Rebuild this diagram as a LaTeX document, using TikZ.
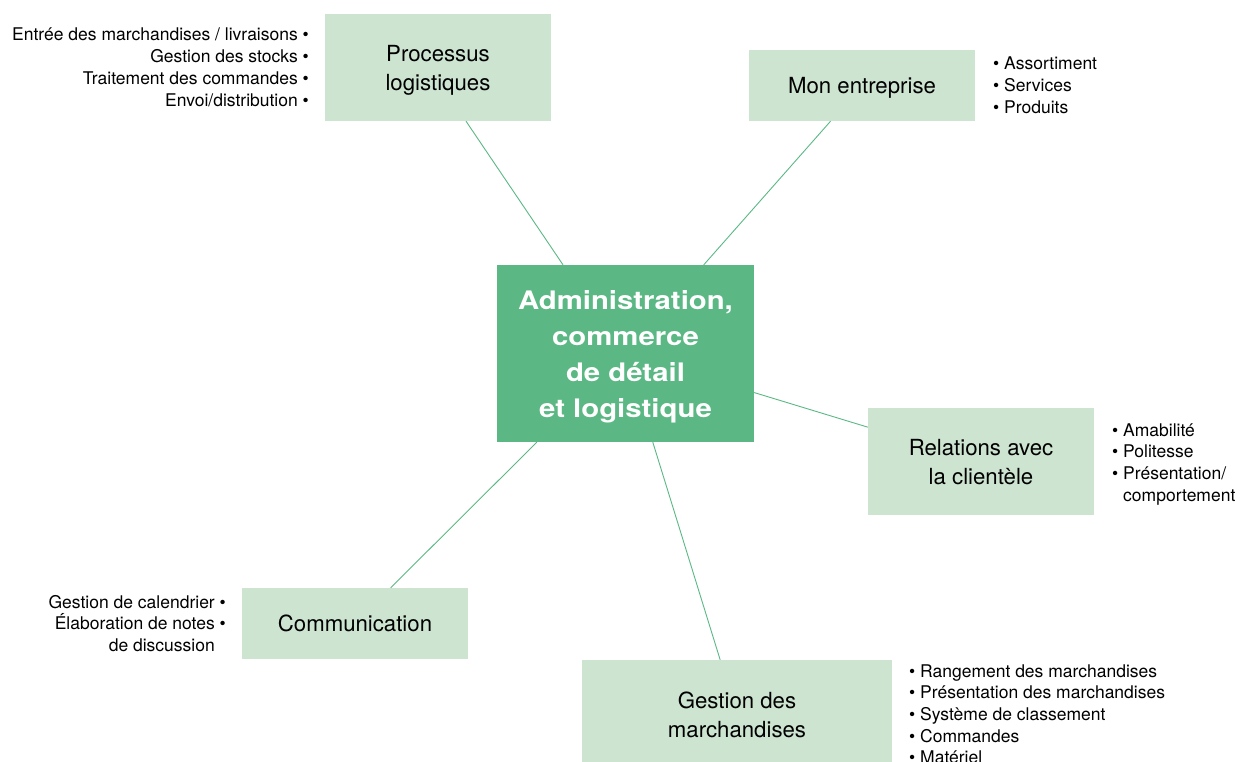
\documentclass[tikz,border=0pt]{standalone}
\usepackage{fontspec}
\setmainfont{TeX Gyre Heros}
\newfontfamily\corefont[FakeStretch=1.15]{TeX Gyre Heros}
\usepackage{xcolor}
\definecolor{mintlight}{HTML}{CCE4D0}
\definecolor{mintdark}{HTML}{5BB884}
\newcommand{\itembul}{\textbullet~}
\newcommand{\itemgap}{\phantom{\textbullet~}}

\tikzset{
  topic/.style={fill=mintlight, inner sep=0pt, minimum width=226pt, align=center, text depth=0pt, font=\fontsize{22.2}{29}\selectfont},
  core/.style={fill=mintdark, text=white, inner sep=0pt, minimum width=257pt, minimum height=177pt, align=center, text depth=0pt, font=\corefont\fontsize{25.5}{36}\selectfont\bfseries},
  item/.style={inner sep=0pt, font=\fontsize{17.5}{21.7}\selectfont},
  link/.style={mintdark, line width=0.9pt}
}

\begin{document}
\begin{tikzpicture}[x=1pt,y=-1pt]
\useasboundingbox (0,0) rectangle (1242,762);
% boxes
\node [core] (admin) at (625.5,353.5) {Administration,\\commerce\\de détail\\et logistique};
\node [topic, minimum height=107pt] (proc) at (438,67.5) {Processus\\logistiques};
\node [topic, minimum height=71pt] (firm) at (862,85.5) {Mon entreprise};
\node [topic, minimum height=107pt] (client) at (981,461.5) {Relations avec\\la clientèle};
\node [topic, minimum height=71pt] (comm) at (355,623.5) {Communication};
\node [topic, minimum width=310pt, minimum height=109pt] (goods) at (737,714.5) {Gestion des\\marchandises};
% connectors
\draw [link] ([xshift=28pt]proc.south) -- ([xshift=-62.5pt]admin.north);
\draw [link] (admin) -- (firm);
\draw [link] (admin) -- (client);
\draw [link] (admin) -- (comm);
\draw [link] (admin) -- (goods);
% lists
\foreach \txt [count=\i] in {Entrée des marchandises / livraisons, Gestion des stocks, Traitement des commandes, Envoi/distribution}
  \node [item, anchor=base east] (proc-\i) at (309,19.3+21.7*\i) {\txt~\textbullet};
\foreach \txt [count=\i] in {Assortiment, Services, Produits}
  \node [item, anchor=base west] (firm-\i) at (993,48.3+21.7*\i) {\textbullet~\txt};
\foreach \txt [count=\i] in {\itembul Amabilité, \itembul Politesse, \itembul Présentation/, \itemgap comportement}
  \node [item, anchor=base west] (client-\i) at (1112,414.3+21.7*\i) {\txt};
\foreach \txt [count=\i] in {Gestion de calendrier~\textbullet, Élaboration de notes~\textbullet, de discussion\itemgap}
  \node [item, anchor=base east] (comm-\i) at (226,586.3+21.7*\i) {\txt};
\foreach \txt [count=\i] in {Rangement des marchandises, Présentation des marchandises, Système de classement, Commandes, Matériel}
  \node [item, anchor=base west] (goods-\i) at (909,655.3+21.7*\i) {\textbullet~\txt};
\end{tikzpicture}
\end{document}
